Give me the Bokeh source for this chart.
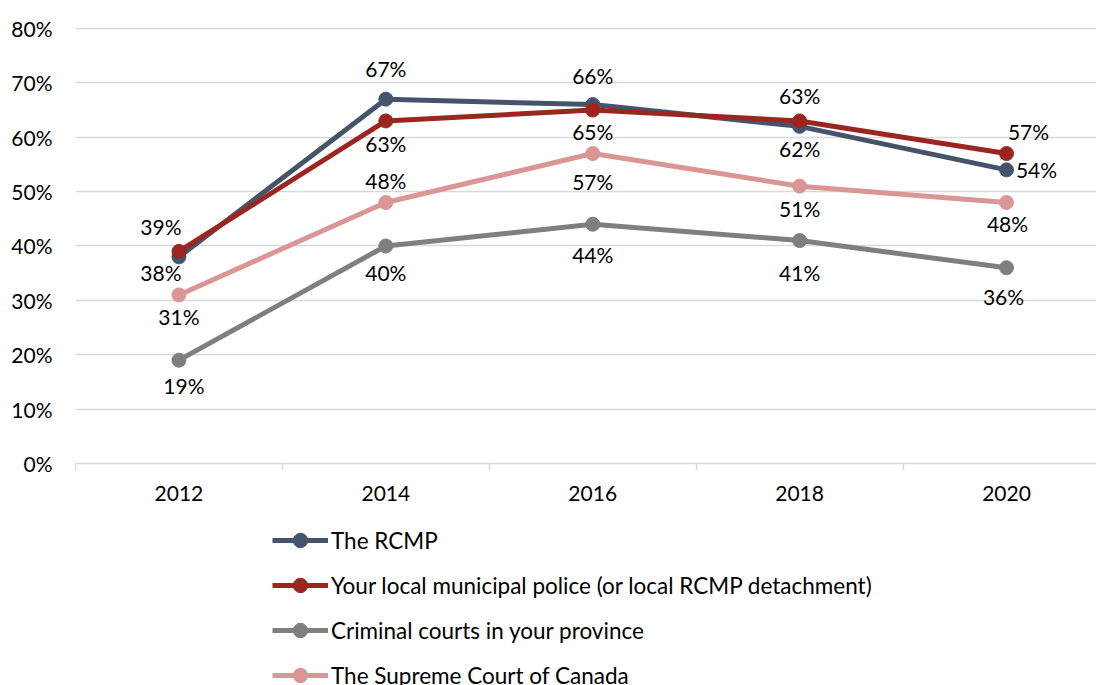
from bokeh.plotting import figure
from bokeh.layouts import column
from bokeh.models import (ColumnDataSource, Range1d, FixedTicker, PrintfTickFormatter,
                          Legend, LegendItem)
from bokeh.core.properties import value
from bokeh.embed import file_html
from bokeh.resources import INLINE

years = [2012, 2014, 2016, 2018, 2020]
series_names = [
    "The RCMP",
    "Your local municipal police (or local RCMP detachment)",
    "Criminal courts in your province",
    "The Supreme Court of Canada",
]
rcmp = [38, 67, 66, 62, 54]
municipal = [39, 63, 65, 63, 57]
criminal = [19, 40, 44, 41, 36]
supreme = [31, 48, 57, 51, 48]
y_ticks = [0, 10, 20, 30, 40, 50, 60, 70, 80]

colors = ["#44546A", "#9B2620", "#7F7F7F", "#DA9694"]
# label placements (screen px offsets: dx, dy with +dy downward)
placements = [
    [(-18, 16), (0, -31), (0, -29), (0, 22), (30, 0)],
    [(-18, -25), (0, 23), (0, 21), (0, -25), (22, -22)],
    [(5, 25), (0, 27), (0, 30), (0, 32), (-3, 29)],
    [(0, 22), (0, -22), (0, 28), (0, 22), (1, 21)],
]

FONT = "Lato"
FS = "21px"
LFS = "22.5px"

p = figure(width=1096, height=515, output_backend="svg", toolbar_location=None,
           x_range=Range1d(2011, 2020.87), y_range=Range1d(0, 80.18),
           min_border_left=75, min_border_right=0, min_border_top=27, min_border_bottom=52)
p.outline_line_color = None
p.xgrid.grid_line_color = None
p.ygrid.grid_line_color = "#D9D9D9"
p.ygrid.grid_line_width = 1.5

p.yaxis.ticker = FixedTicker(ticks=y_ticks)
p.yaxis.formatter = PrintfTickFormatter(format="%d%%")
p.yaxis.axis_line_color = None
p.yaxis.major_tick_line_color = None
p.yaxis.minor_tick_line_color = None
p.yaxis.major_tick_out = 0
p.yaxis.major_tick_in = 0
p.yaxis.major_label_standoff = 23
p.yaxis.major_label_text_font = FONT
p.yaxis.major_label_text_font_size = FS
p.yaxis.major_label_text_color = "#000000"

p.xaxis.ticker = FixedTicker(ticks=years, minor_ticks=[2011, 2013, 2015, 2017, 2019, 2021])
p.xaxis.axis_line_color = "#D9D9D9"
p.xaxis.axis_line_width = 1.5
p.xaxis.major_tick_line_color = None
p.xaxis.minor_tick_line_color = "#D9D9D9"
p.xaxis.minor_tick_line_width = 1.5
p.xaxis.minor_tick_in = 0
p.xaxis.minor_tick_out = 7
p.xaxis.major_label_standoff = 15
p.xaxis.major_label_text_font = FONT
p.xaxis.major_label_text_font_size = FS
p.xaxis.major_label_text_color = "#000000"

# legend figure below the chart (its ranges keep the series out of view)
lg = figure(width=1096, height=170, output_backend="svg", toolbar_location=None,
            x_range=Range1d(0, 1), y_range=Range1d(0, 1),
            x_axis_location=None, y_axis_location=None,
            min_border_left=0, min_border_right=0, min_border_top=0, min_border_bottom=0)
lg.outline_line_color = None
lg.xgrid.grid_line_color = None
lg.ygrid.grid_line_color = None

all_series = [rcmp, municipal, criminal, supreme]
items = []
for name, vals, col, plc in zip(series_names, all_series, colors, placements):
    src = ColumnDataSource(dict(
        x=years, y=vals, lab=[f"{v}%" for v in vals],
        dx=[d[0] for d in plc], dy=[d[1] for d in plc]))
    p.line("x", "y", source=src, line_color=col, line_width=5)
    p.scatter("x", "y", source=src, size=14, fill_color=col, line_color=col)
    p.text("x", "y", text="lab", source=src, x_offset="dx", y_offset="dy",
           text_align="center", text_baseline="middle", text_font=value(FONT),
           text_font_size=FS, text_color="#000000")
    lr = lg.line("x", "y", source=src, line_color=col, line_width=5)
    sr = lg.scatter("x", "y", source=src, size=14, fill_color=col, line_color=col)
    items.append(LegendItem(label=name, renderers=[lr, sr]))

legend = Legend(items=items, location=(197, -8), orientation="vertical",
                glyph_width=56, glyph_height=36, label_height=36, spacing=9,
                label_standoff=3, padding=0, margin=0,
                border_line_alpha=0, background_fill_alpha=0,
                label_text_font=FONT, label_text_font_size=LFS, label_text_color="#000000")
lg.add_layout(legend, "center")

layout = column(p, lg, spacing=0)
open("out.html", "w").write(file_html(layout, INLINE))
